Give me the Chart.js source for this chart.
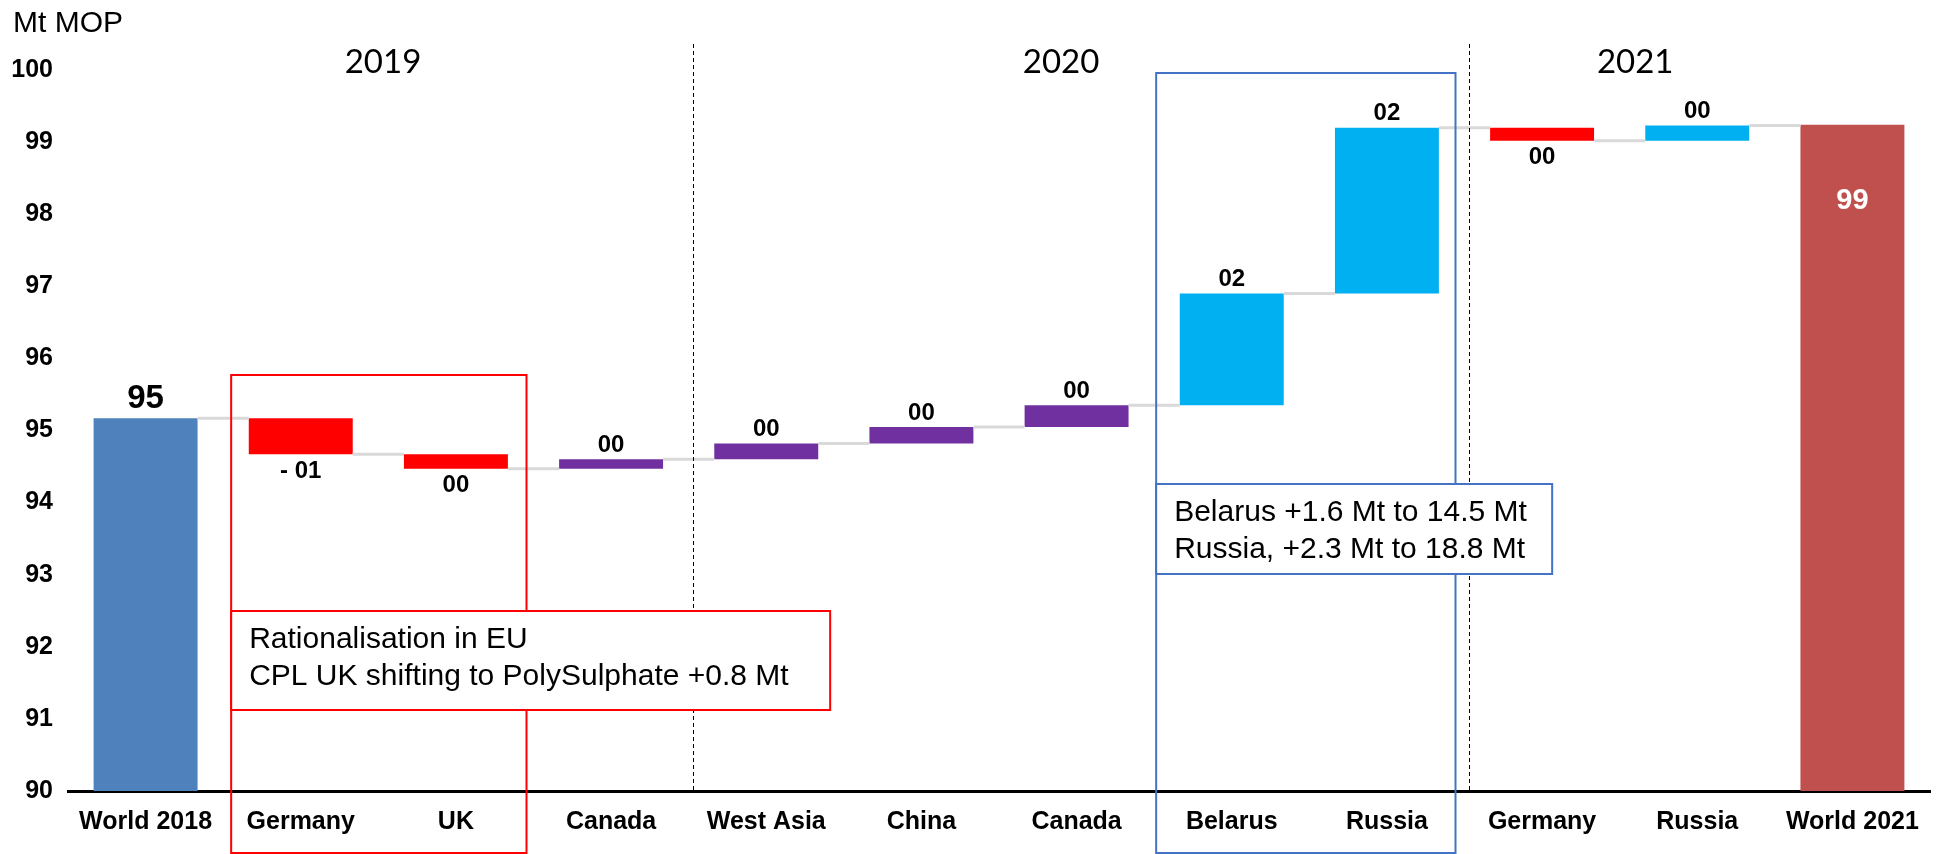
<!DOCTYPE html>
<html>
<head>
<meta charset="utf-8">
<script src="https://cdn.jsdelivr.net/npm/chart.js@4"></script>
<style>
  html, body { margin: 0; padding: 0; background: #fff; }
  #wrap { width: 1938px; height: 854px; position: relative; }
</style>
</head>
<body>
<div id="wrap"><canvas id="waterfall" width="1938" height="854"></canvas></div>
<script>
// categories along the x axis
const categories = ['World 2018', 'Germany', 'UK', 'Canada', 'West Asia', 'China', 'Canada', 'Belarus', 'Russia', 'Germany', 'Russia', 'World 2021'];
// start total, changes and end total in Mt MOP
const startTotal = 95.17;
const changes = [-0.5, -0.2, 0.13, 0.22, 0.23, 0.3, 1.55, 2.3, -0.18, 0.21];
const endTotal = 99.24;
// labels printed on the bars
const valueLabels = ['95', '- 01', '00', '00', '00', '00', '00', '02', '02', '00', '00', '99'];
const barColors = ['#4F81BD', '#FF0000', '#FF0000', '#7030A0', '#7030A0', '#7030A0', '#7030A0', '#00B0F0', '#00B0F0', '#FF0000', '#00B0F0', '#C0504D'];
// year headings and where they sit (in category units)
const years = ['2019', '2020', '2021'];
const yearSpots = [1.53, 5.9, 9.6];
const yTicks = [90, 91, 92, 93, 94, 95, 96, 97, 98, 99, 100];

// build the floating bars
const ranges = [];
const levels = [];
ranges.push([90, startTotal]);
levels.push(startTotal);
let running = startTotal;
changes.forEach(c => {
    const next = running + c;
    ranges.push([Math.min(running, next), Math.max(running, next)]);
    running = next;
    levels.push(running);
});
ranges.push([90, endTotal]);
levels.push(endTotal);

const LABEL_FONT = 'bold 24px "Liberation Sans", Arial, sans-serif';
const NOTE_FONT = '30px "Liberation Sans", Arial, sans-serif';

function drawNoteBox(ctx, x, y, w, h, color, lines) {
    ctx.save();
    ctx.fillStyle = '#fff';
    ctx.fillRect(x, y, w, h);
    ctx.strokeStyle = color;
    ctx.lineWidth = 2;
    ctx.strokeRect(x, y, w, h);
    ctx.fillStyle = '#000';
    ctx.font = NOTE_FONT;
    ctx.textAlign = 'left';
    ctx.textBaseline = 'middle';
    lines.forEach((t, i) => ctx.fillText(t, x + 18, y + 29 + i * 37));
    ctx.restore();
}

const decorations = {
    id: 'decorations',
    afterDatasetsDraw(chart) {
        const ctx = chart.ctx;
        const xs = chart.scales.x;
        const ys = chart.scales.y;
        const meta = chart.getDatasetMeta(0);
        const step = xs.getPixelForValue(1) - xs.getPixelForValue(0);
        const edge = i => xs.getPixelForValue(0) + (i - 0.5) * step;

        // connector lines between bars
        ctx.save();
        ctx.strokeStyle = '#D9D9D9';
        ctx.lineWidth = 3;
        for (let i = 0; i < meta.data.length - 1; i++) {
            const a = meta.data[i], b = meta.data[i + 1];
            const y = ys.getPixelForValue(levels[i]);
            ctx.beginPath();
            ctx.moveTo(a.x + a.width / 2, y);
            ctx.lineTo(b.x - b.width / 2, y);
            ctx.stroke();
        }
        ctx.restore();

        // value labels
        ctx.save();
        ctx.textAlign = 'center';
        ctx.textBaseline = 'middle';
        meta.data.forEach((bar, i) => {
            const top = Math.min(bar.y, bar.base);
            const bottom = Math.max(bar.y, bar.base);
            if (i === 0) {
                ctx.font = 'bold 33px "Liberation Sans", Arial, sans-serif';
                ctx.fillStyle = '#000';
                ctx.fillText(valueLabels[i], bar.x, top - 19);
            } else if (i === meta.data.length - 1) {
                ctx.font = 'bold 29px "Liberation Sans", Arial, sans-serif';
                ctx.fillStyle = '#fff';
                ctx.fillText(valueLabels[i], bar.x, top + 76);
            } else {
                ctx.font = LABEL_FONT;
                ctx.fillStyle = '#000';
                if (changes[i - 1] < 0) ctx.fillText(valueLabels[i], bar.x, bottom + 17);
                else ctx.fillText(valueLabels[i], bar.x, top - 14);
            }
        });
        ctx.restore();

        // dashed year separators
        ctx.save();
        ctx.strokeStyle = '#000';
        ctx.lineWidth = 1;
        ctx.setLineDash([4, 3]);
        [4, 9].forEach(i => {
            const x = Math.round(edge(i)) + 4.5;
            ctx.beginPath();
            ctx.moveTo(x, 44);
            ctx.lineTo(x, ys.bottom);
            ctx.stroke();
        });
        ctx.restore();

        // year headings
        ctx.save();
        ctx.font = '33px Lato, "Open Sans", sans-serif';
        ctx.fillStyle = '#000';
        ctx.textAlign = 'center';
        ctx.textBaseline = 'middle';
        years.forEach((t, i) => {
            const x = xs.getPixelForValue(0) + yearSpots[i] * step;
            ctx.fillText(t, x, 62);
        });
        ctx.restore();

        // unit label
        ctx.save();
        ctx.font = '30px "Liberation Sans", Arial, sans-serif';
        ctx.fillStyle = '#000';
        ctx.textAlign = 'left';
        ctx.textBaseline = 'alphabetic';
        ctx.fillText('Mt MOP', 13, 32);
        ctx.restore();

        // highlight frames
        ctx.save();
        ctx.lineWidth = 2;
        ctx.strokeStyle = '#FF0000';
        const rx0 = edge(1) + 8, rx1 = edge(3) - 7;
        ctx.strokeRect(rx0, 375, rx1 - rx0, 478);
        ctx.strokeStyle = '#4472C4';
        const bx0 = edge(7) + 2, bx1 = edge(9) - 9;
        ctx.strokeRect(bx0, 73, bx1 - bx0, 780);
        ctx.restore();

        drawNoteBox(ctx, rx0, 611, 599, 99, '#FF0000',
            ['Rationalisation in EU', 'CPL UK shifting to PolySulphate +0.8 Mt']);
        drawNoteBox(ctx, bx0, 484, 396, 90, '#4472C4',
            ['Belarus +1.6 Mt to 14.5 Mt', 'Russia, +2.3 Mt to 18.8 Mt']);
    }
};

const ctx = document.getElementById('waterfall').getContext('2d');
const chart = new Chart(ctx, {
    type: 'bar',
    data: {
        labels: categories,
        datasets: [{
            data: ranges,
            backgroundColor: barColors,
            borderWidth: 0,
            borderSkipped: false,
            barPercentage: 0.67,
            categoryPercentage: 1
        }]
    },
    options: {
        responsive: false,
        animation: false,
        layout: { padding: { top: 70, right: 8, left: 0, bottom: 0 } },
        plugins: { legend: { display: false }, tooltip: { enabled: false } },
        scales: {
            x: {
                grid: { display: false, drawTicks: false },
                border: { display: true, color: '#000', width: 3 },
                ticks: { color: '#000', font: { family: '"Liberation Sans", Arial, sans-serif', size: 25, weight: 'bold' }, padding: 16, maxRotation: 0, autoSkip: false },
                afterFit(scale) { scale.height = 63; }
            },
            y: {
                min: 90,
                max: 100,
                grid: { display: false, drawTicks: false },
                border: { display: false },
                afterBuildTicks(scale) { scale.ticks = yTicks.map(v => ({ value: v })); },
                ticks: { color: '#000', font: { family: '"Liberation Sans", Arial, sans-serif', size: 25, weight: 'bold' }, padding: 15 },
                afterFit(scale) { scale.width = 68; }
            }
        }
    },
    plugins: [decorations]
});
</script>
</body>
</html>
